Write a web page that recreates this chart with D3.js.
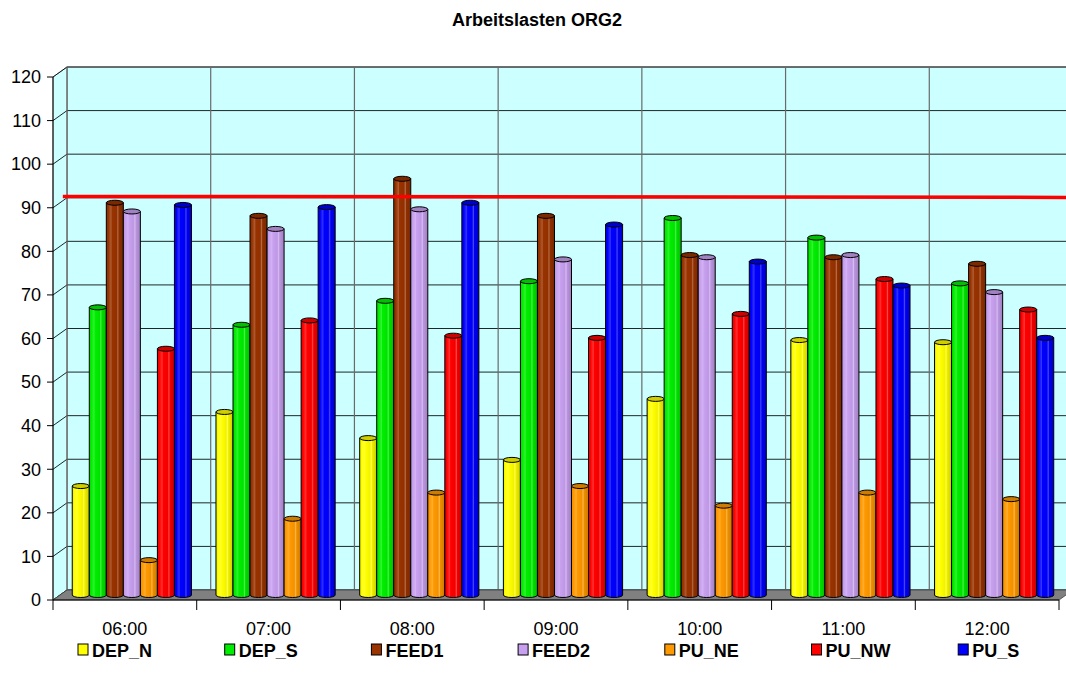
<!DOCTYPE html>
<html>
<head>
<meta charset="utf-8">
<script src="https://cdn.jsdelivr.net/npm/d3@7/dist/d3.min.js"></script>
<style>
  html, body { margin: 0; padding: 0; background: #fff; }
  svg { display: block; font-family: "Liberation Sans", Arial, sans-serif; }
</style>
</head>
<body>
<svg id="chart" width="1066" height="687"></svg>
<script>
// Workload per time slot and position
const title = "Arbeitslasten ORG2";
const times = ["06:00", "07:00", "08:00", "09:00", "10:00", "11:00", "12:00"];
const seriesNames = ["DEP_N", "DEP_S", "FEED1", "FEED2", "PU_NE", "PU_NW", "PU_S"];
const seriesColors = ["#FFFF00", "#00EE00", "#993300", "#C8A0F0", "#FF9900", "#FF0000", "#0000FF"];

const DEP_N = [25, 42, 36, 31, 45, 58.5, 58];
const DEP_S = [66, 62, 67.5, 72, 86.5, 82, 71.5];
const FEED1 = [90, 87, 95.5, 87, 78, 77.5, 76];
const FEED2 = [88, 84, 88.5, 77, 77.5, 78, 69.5];
const PU_NE = [8, 17.5, 23.5, 25, 20.5, 23.5, 22];
const PU_NW = [56.5, 63, 59.5, 59, 64.5, 72.5, 65.5];
const PU_S  = [89.5, 89, 90, 85, 76.5, 71, 59];
const seriesValues = [DEP_N, DEP_S, FEED1, FEED2, PU_NE, PU_NW, PU_S];

const yTicks = [0, 10, 20, 30, 40, 50, 60, 70, 80, 90, 100, 110, 120];
const limitValue = 91;   // capacity line

// ---- geometry ----
const svg = d3.select("#chart");
const frontLeft = 53, frontRight = 1059;
const frontBottom = 600, frontTop = 77;
const depthX = 14, depthY = -10;      // offset from front plane to back wall

const x0 = d3.scaleBand().domain(times).range([frontLeft, frontRight]).padding(0);
const x1 = d3.scaleBand().domain(seriesNames).range([0, x0.bandwidth()])
  .paddingInner(0).paddingOuter(0.72);
const y = d3.scaleLinear().domain([0, 120]).range([frontBottom, frontTop]);

// shift a front-plane point to depth t (0 = front, 1 = back wall)
const dx = t => depthX * t;
const dy = t => depthY * t;

// ---- gradients for cylinders ----
const defs = svg.append("defs");
seriesColors.forEach((c, i) => {
  const base = d3.rgb(c);
  const light = k => d3.interpolateRgb(base, "#ffffff")(k);
  const dark = k => base.darker(k).formatHex();
  const g = defs.append("linearGradient").attr("id", "cyl" + i)
    .attr("x1", "0%").attr("x2", "100%").attr("y1", "0%").attr("y2", "0%");
  [
    [0, dark(0.25)], [0.12, base.formatHex()], [0.28, light(0.2)], [0.34, base.formatHex()],
    [0.6, dark(0.15)], [0.68, light(0.28)], [0.74, dark(0.2)], [0.9, dark(0.45)], [1, dark(0.7)]
  ].forEach(([o, col]) => g.append("stop").attr("offset", o).attr("stop-color", col));
});

// ---- title ----
svg.append("text").attr("x", 537).attr("y", 26).attr("text-anchor", "middle")
  .attr("font-weight", "bold").attr("font-size", 18).attr("fill", "#000").text(title);

// ---- back wall ----
const backX0 = frontLeft + depthX, backX1 = frontRight + depthX;
svg.append("rect").attr("x", backX0).attr("y", y(120) + depthY)
  .attr("width", backX1 - backX0).attr("height", y(0) - y(120))
  .attr("fill", "#CCFFFF").attr("stroke", "#808080").attr("stroke-width", 1);

// ---- left wall ----
svg.append("path")
  .attr("d", `M${frontLeft},${y(0)} L${frontLeft},${y(120)} L${backX0},${y(120) + depthY} L${backX0},${y(0) + depthY} Z`)
  .attr("fill", "#CCFFFF").attr("stroke", "#808080");

// horizontal gridlines on back wall and left wall
svg.append("g").selectAll("path").data(yTicks).join("path")
  .attr("d", v => `M${frontLeft},${y(v)} L${backX0},${y(v) + depthY} L${backX1},${y(v) + depthY}`)
  .attr("fill", "none").attr("stroke", "#000").attr("stroke-width", 1)
  .attr("stroke-opacity", 0.85);

// vertical gridlines at category boundaries on back wall
const boundaries = times.map(t => x0(t)).concat([frontRight]);
svg.append("g").selectAll("line").data(boundaries).join("line")
  .attr("x1", b => b + depthX).attr("x2", b => b + depthX)
  .attr("y1", y(120) + depthY).attr("y2", y(0) + depthY)
  .attr("stroke", "#6a6a6a").attr("stroke-width", 1.2);

// ---- floor ----
svg.append("path")
  .attr("d", `M${frontLeft},${y(0)} L${backX0},${y(0) + depthY} L${backX1},${y(0) + depthY} L${frontRight},${y(0)} Z`)
  .attr("fill", "#808080").attr("stroke", "#404040").attr("stroke-width", 0.8);

// ---- y axis (front left edge) ----
const yAxis = svg.append("g");
yAxis.append("line").attr("x1", frontLeft).attr("x2", frontLeft)
  .attr("y1", y(0)).attr("y2", y(120)).attr("stroke", "#000");
yAxis.selectAll("line.tick").data(yTicks).join("line").attr("class", "tick")
  .attr("x1", frontLeft - 6).attr("x2", frontLeft)
  .attr("y1", v => y(v)).attr("y2", v => y(v)).attr("stroke", "#000");
yAxis.selectAll("text").data(yTicks).join("text")
  .attr("x", frontLeft - 12).attr("y", v => y(v)).attr("dy", "0.35em")
  .attr("text-anchor", "end").attr("font-size", 18).attr("fill", "#000")
  .text(d => d);

// ---- x axis (front bottom edge) ----
const xAxis = svg.append("g");
xAxis.append("line").attr("x1", frontLeft).attr("x2", frontRight)
  .attr("y1", y(0)).attr("y2", y(0)).attr("stroke", "#000").attr("stroke-width", 1.2);
xAxis.selectAll("line.tick").data(boundaries).join("line").attr("class", "tick")
  .attr("x1", b => b).attr("x2", b => b)
  .attr("y1", y(0)).attr("y2", y(0) + 10).attr("stroke", "#000");
xAxis.selectAll("text").data(times).join("text")
  .attr("x", t => x0(t) + x0.bandwidth() / 2).attr("y", 635)
  .attr("text-anchor", "middle").attr("font-size", 18).attr("fill", "#000")
  .text(t => t);

// ---- cylinders ----
const mid = 0.5;          // bars stand halfway into the depth
const ry = 2.5;
const r = x1.bandwidth() / 2;
const bars = [];
times.forEach((t, ti) => {
  seriesNames.forEach((s, si) => {
    bars.push({ t, s, si, v: seriesValues[si][ti] });
  });
});
const barG = svg.append("g");
const cyl = barG.selectAll("g").data(bars).join("g");
cyl.append("path")
  .attr("d", d => {
    const cx = x0(d.t) + x1(d.s) + r + dx(mid);
    const yt = y(d.v) + dy(mid), yb = y(0) + dy(mid);
    return `M${cx - r},${yt} L${cx - r},${yb} A${r},${ry} 0 0 0 ${cx + r},${yb} L${cx + r},${yt} Z`;
  })
  .attr("fill", d => `url(#cyl${d.si})`)
  .attr("stroke", "#000").attr("stroke-width", 1);
cyl.append("ellipse")
  .attr("cx", d => x0(d.t) + x1(d.s) + r + dx(mid))
  .attr("cy", d => y(d.v) + dy(mid))
  .attr("rx", r).attr("ry", ry)
  .attr("fill", d => d3.rgb(seriesColors[d.si]).darker(0.6))
  .attr("stroke", "#000").attr("stroke-width", 1);

// ---- capacity line ----
const lineDepth = 0.7;
svg.append("line")
  .attr("x1", frontLeft + dx(lineDepth)).attr("x2", 1066)
  .attr("y1", y(limitValue) + dy(lineDepth)).attr("y2", y(limitValue) + dy(lineDepth) + 1)
  .attr("stroke", "#FF0000").attr("stroke-width", 3.5);

// ---- legend ----
const legend = svg.append("g");
const legendStep = 146.7, legendX = 78;
const item = legend.selectAll("g").data(seriesNames).join("g")
  .attr("transform", (d, i) => `translate(${legendX + i * legendStep},644)`);
item.append("rect").attr("width", 10).attr("height", 11)
  .attr("fill", (d, i) => seriesColors[i]).attr("stroke", "#000").attr("stroke-width", 1);
item.append("text").attr("x", 14).attr("y", 13)
  .attr("font-size", 18).attr("font-weight", "bold").attr("fill", "#000")
  .text(d => d);
</script>
</body>
</html>
